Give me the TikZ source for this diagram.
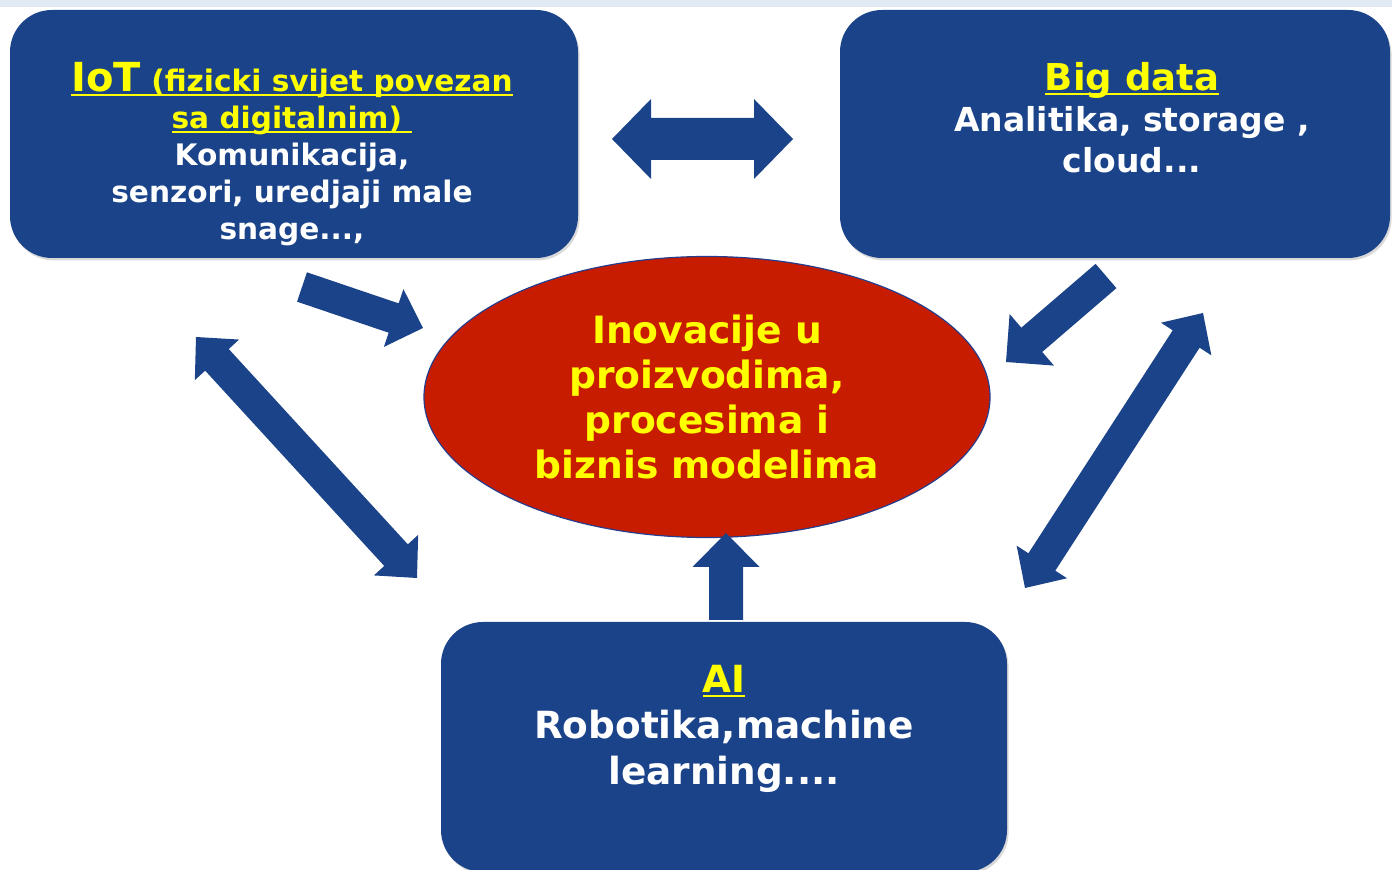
\documentclass[tikz,border=0pt]{standalone}
\usepackage{fontspec}
\setmainfont{DejaVu Sans}
\usetikzlibrary{shapes.geometric,calc,shadows}
\definecolor{boxblue}{RGB}{26,67,137}
\definecolor{ellred}{RGB}{200,28,0}
\definecolor{ttlyellow}{RGB}{255,255,0}
\definecolor{topstrip}{RGB}{225,233,243}
\definecolor{ellborder}{RGB}{40,60,140}

% thick underline in the current colour
\newcommand{\yul}[1]{\setbox0\hbox{#1}\rlap{\rule[-2.2pt]{\wd0}{1.1pt}}\box0}

% single block arrow: #1 tail, #2 tip, #3 shaft half width, #4 head half width, #5 head length
\newcommand{\blockarrow}[5]{%
  \coordinate (bah) at ($(#2)!#5!(#1)$);
  \fill[arrowblue] ($(#1)!#3!90:(#2)$) -- ($(bah)!#3!90:(#2)$) -- ($(bah)!#4!90:(#2)$) -- (#2)
    -- ($(bah)!#4!-90:(#2)$) -- ($(bah)!#3!-90:(#2)$) -- ($(#1)!#3!-90:(#2)$) -- cycle;}
% double block arrow: #1 tip A, #2 tip B
\newcommand{\dblarrow}[5]{%
  \coordinate (dha) at ($(#1)!#5!(#2)$);
  \coordinate (dhb) at ($(#2)!#5!(#1)$);
  \fill[arrowblue] (#1) -- ($(dha)!#4!90:(#2)$) -- ($(dha)!#3!90:(#2)$) -- ($(dhb)!#3!90:(#2)$)
    -- ($(dhb)!#4!90:(#2)$) -- (#2) -- ($(dhb)!#4!-90:(#2)$) -- ($(dhb)!#3!-90:(#2)$)
    -- ($(dha)!#3!-90:(#2)$) -- ($(dha)!#4!-90:(#2)$) -- cycle;}

\begin{document}
\begin{tikzpicture}[x=0.5pt,y=-0.5pt,
  bbox/.style={rectangle, rounded corners=21pt, fill=boxblue, draw=none, inner sep=0pt,
    drop shadow={shadow xshift=0.8pt, shadow yshift=-1.2pt, opacity=0.3}},
  arrowblue/.style={fill=boxblue},
  txt/.style={align=center, text=white, inner sep=0pt},
  ell/.style={ellipse, fill=ellred, draw=ellborder, line width=0.6pt, inner sep=0pt,
    minimum width=283pt, minimum height=140.5pt, align=center, text=ttlyellow,
    font=\bfseries\fontsize{18.8}{22.5}\selectfont}]
\useasboundingbox (0,0) rectangle (1392,870);
\clip (0,0) rectangle (1392,870);
\fill[topstrip] (0,0) rectangle (1392,7);

% boxes
\node[bbox, minimum width=284pt, minimum height=124pt] (iot) at (294,134) {};
\node[bbox, minimum width=275pt, minimum height=124pt] (big) at (1115,134) {};
\node[bbox, minimum width=283pt, minimum height=125pt] (ai) at (724,747) {};

% central ellipse
\node[ell] (inn) at (707,397) {Inovacije u\\proizvodima,\\procesima i\\biznis modelima};

% box texts
\node[txt, font=\bfseries\fontsize{14.8}{18.5}\selectfont] (iott) at (292,154)
  {\textcolor{ttlyellow}{\yul{{\fontsize{20}{18.5}\selectfont IoT} (fizicki svijet povezan}}\\
   \textcolor{ttlyellow}{\yul{sa digitalnim)\ }}\\
   Komunikacija,\\senzori, uredjaji male\\snage...,};
\node[txt, font=\bfseries\fontsize{16.5}{20.5}\selectfont] (bigt) at (1132,118)
  {\textcolor{ttlyellow}{\yul{\fontsize{18.5}{20.5}\selectfont Big data}}\\
   Analitika, storage ,\\cloud...};
\node[txt, font=\bfseries\fontsize{18.7}{23}\selectfont] (ait) at (724,729)
  {\textcolor{ttlyellow}{\yul{AI}}\\Robotika,machine\\learning....};

% arrow end points
\coordinate (a1s) at (302,287);  \coordinate (a1e) at (423,328);
\coordinate (a2s) at (1106,276); \coordinate (a2e) at (1006,362);
\coordinate (a3s) at (612,139);  \coordinate (a3e) at (793,139);
\coordinate (a4s) at (196,337);  \coordinate (a4e) at (417,578);
\coordinate (a5s) at (1025,588); \coordinate (a5e) at (1203,313);
\coordinate (a6s) at (726,620);  \coordinate (a6e) at (726,533);

\blockarrow{a1s}{a1e}{7.75pt}{15.25pt}{15.5pt}
\blockarrow{a2s}{a2e}{8pt}{17pt}{17pt}
\dblarrow{a3s}{a3e}{10.5pt}{20pt}{19.5pt}
\dblarrow{a4s}{a4e}{8pt}{15pt}{15.5pt}
\dblarrow{a5s}{a5e}{8pt}{15pt}{15.5pt}
\blockarrow{a6s}{a6e}{8.5pt}{16.75pt}{17pt}
\end{tikzpicture}
\end{document}
